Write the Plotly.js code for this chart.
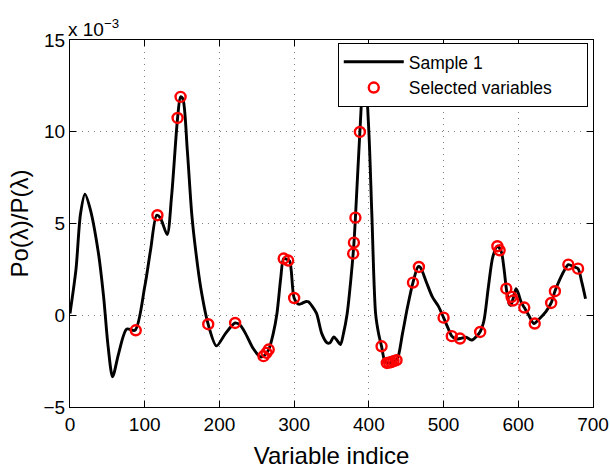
<!DOCTYPE html>
<html>
<head>
<meta charset="utf-8">
<script src="https://cdn.plot.ly/plotly-3.0.1.min.js"></script>
<style>html,body{margin:0;padding:0;background:#fff;} #chart{width:610px;height:469px;}</style>
</head>
<body>
<div id="chart"></div>
<script>
// Sample 1 curve (values in units of 1e-3)
const sampleX = [0,8,14,20,27,38,45,51,57,65,76,87,100,108,116,121,130,136,144,148,151,157,163,168,175,185,196,208,221,228,235,245,255,260,266,272,277,282,286,290,294,300,306,310,316,319,324,330,337,344,348,353,358,362,366,371,376,380,382,388,394,400,404,409,413,417,422,428,434,438,445,452,459,466,469,477,485,493,500,506,511,517,522,530,538,544,549,554,560,566,572,577,581,584,588,590,593,597,600,604,608,614,621,628,637,644,649,655,661,667,674,680,685,690];
const sampleY = [0.1,2.5,5.5,6.6,5.8,3.4,1.0,-1.7,-3.35,-2.1,-0.75,-0.82,1.55,3.6,5.45,5.3,4.4,6.5,10.75,11.9,11.8,9.0,5.5,3.6,1.5,-0.5,-1.67,-1.0,-0.42,-0.55,-1.0,-1.8,-2.27,-2.2,-1.87,-1.0,0.1,2.0,3.1,3.05,2.95,0.94,0.6,0.64,0.75,0.73,0.5,0.1,-1.0,-1.5,-1.5,-1.18,-1.4,-1.6,-1.0,0.1,2.0,3.9,5.3,10.0,13.8,10.0,5.5,0.1,-1.0,-1.7,-2.55,-2.6,-2.5,-2.4,-1.0,0.5,1.78,2.65,2.6,1.8,1.0,0.5,-0.13,-0.7,-1.14,-1.3,-1.27,-1.2,-1.35,-1.15,-0.9,-0.3,1.55,3.2,3.76,3.5,2.5,1.45,0.6,0.54,0.9,1.45,1.2,0.7,0.42,0.0,-0.45,-0.2,0.2,0.67,1.31,1.9,2.4,2.76,2.65,2.54,1.8,0.9];

// Selected variables
const selX = [88,117,144,148,185,221,259,263,266,286,292,300,379,380,382,388,417,424,427,430,433,437,459,467,500,511,522,549,572,575,584,591,593,608,622,644,649,667,680];
const selY = [-0.82,5.45,10.75,11.9,-0.49,-0.42,-2.23,-2.05,-1.87,3.09,2.98,0.94,3.36,3.96,5.32,9.99,-1.69,-2.6,-2.58,-2.55,-2.5,-2.45,1.78,2.63,-0.13,-1.14,-1.27,-0.91,3.76,3.54,1.45,1.0,0.8,0.42,-0.45,0.67,1.31,2.76,2.54];

const xTicks = [0,100,200,300,400,500,600,700];
const yTicks = [-5,0,5,10,15];

const FONT = 'Liberation Sans, Arial, Helvetica, sans-serif';
const PAD = '\u00a0\u00a0\u00a0\u00a0\u00a0\u00a0';

const traces = [
  {x: sampleX, y: sampleY, mode: 'lines', name: 'Sample 1',
   line: {color: '#000', width: 2.9, shape: 'spline', smoothing: 0.8}},
  {x: selX, y: selY, mode: 'markers', name: 'Selected variables' + PAD,
   marker: {symbol: 'circle-open', size: 10, color: '#ff0000', line: {width: 2.4, color: '#ff0000'}}}
];

const axisCommon = {
  showline: true, linecolor: '#000', linewidth: 1, mirror: 'ticks',
  ticks: 'inside', ticklen: 6, tickcolor: '#000', tickwidth: 1,
  showgrid: true, gridcolor: '#808080', griddash: '1px,5px', gridwidth: 1,
  zeroline: false, tickfont: {family: FONT, size: 19, color: '#000'}
};

const layout = {
  width: 610, height: 469,
  margin: {l: 70, r: 17, t: 40, b: 62},
  paper_bgcolor: '#fff', plot_bgcolor: '#fff',
  font: {family: FONT, color: '#000'},
  showlegend: true,
  legend: {x: 0.99, y: 0.992, xanchor: 'right', yanchor: 'top',
           bgcolor: '#fff', bordercolor: '#000', borderwidth: 1,
           font: {family: FONT, size: 17.5, color: '#000'}, itemwidth: 60},
  xaxis: Object.assign({}, axisCommon, {range: [0, 700], tickvals: xTicks,
    title: {text: 'Variable indice', font: {family: FONT, size: 24}, standoff: 13}}),
  yaxis: Object.assign({}, axisCommon, {range: [-5, 15], tickvals: yTicks,
    title: {text: 'Po(λ)/P(λ)', font: {family: FONT, size: 24}, standoff: 8}}),
  annotations: [{xref: 'paper', yref: 'paper', x: 0, y: 1, xanchor: 'left', yanchor: 'bottom',
    text: 'x 10<sup>−3</sup>', showarrow: false, font: {family: FONT, size: 19, color: '#000'}, xshift: -4, yshift: -2}]
};

Plotly.newPlot('chart', traces, layout, {staticPlot: true, displayModeBar: false});
</script>
</body>
</html>
